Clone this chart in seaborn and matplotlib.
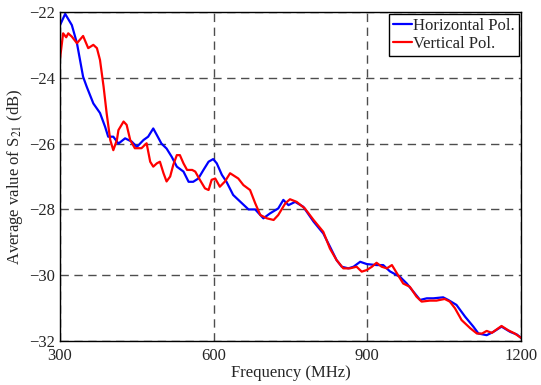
import pandas as pd
import seaborn as sns
import matplotlib.pyplot as plt

# values
freq_h = [300, 310, 323, 333, 345, 352, 365, 378, 388, 394, 404, 414, 427, 440, 450,
          463, 472, 482, 489, 498, 508, 518, 528, 541, 551, 560, 570, 580, 590, 599,
          606, 616, 625, 638, 655, 668, 681, 697, 710, 726, 736, 746, 759, 775, 795,
          814, 827, 840, 850, 863, 873, 886, 899, 918, 931, 944, 964, 977, 990, 1003,
          1016, 1029, 1048, 1058, 1074, 1091, 1107, 1117, 1133, 1146, 1162, 1179, 1192, 1200]
s21_h = [-22.4, -22.06, -22.4, -22.95, -23.97, -24.27, -24.78, -25.07, -25.49, -25.79, -25.79, -26.0, -25.84, -25.94, -26.1,
         -25.89, -25.79, -25.54, -25.74, -26.0, -26.15, -26.4, -26.7, -26.85, -27.16, -27.16, -27.06, -26.8, -26.55, -26.47,
         -26.6, -26.95, -27.16, -27.56, -27.81, -28.0, -28.0, -28.27, -28.12, -27.97, -27.71, -27.87, -27.77, -27.92, -28.37,
         -28.73, -29.13, -29.54, -29.74, -29.79, -29.74, -29.59, -29.66, -29.69, -29.69, -29.88, -30.05, -30.25, -30.5, -30.75,
         -30.7, -30.7, -30.67, -30.75, -30.9, -31.26, -31.56, -31.77, -31.82, -31.72, -31.56, -31.72, -31.8, -31.9]

freq_v = [300, 306, 312, 316, 323, 333, 345, 355, 365, 372, 378, 385, 391, 398, 404,
          411, 414, 424, 430, 437, 446, 459, 469, 476, 482, 489, 495, 502, 508, 515,
          521, 528, 534, 541, 548, 558, 564, 573, 583, 590, 596, 603, 612, 622, 632,
          648, 658, 671, 681, 691, 704, 717, 726, 740, 749, 762, 778, 795, 814, 827,
          840, 853, 866, 879, 889, 899, 909, 918, 928, 938, 948, 957, 970, 983, 996,
          1006, 1022, 1035, 1051, 1061, 1071, 1084, 1101, 1114, 1124, 1133, 1143, 1162, 1175, 1188, 1200]
s21_v = [-23.41, -22.65, -22.77, -22.65, -22.75, -22.95, -22.73, -23.1, -23.0, -23.1, -23.46, -24.27, -25.08, -25.89, -26.2,
         -25.89, -25.59, -25.33, -25.43, -25.89, -26.14, -26.14, -25.99, -26.55, -26.7, -26.6, -26.55, -26.9, -27.15, -27.0,
         -26.65, -26.35, -26.35, -26.6, -26.8, -26.8, -26.85, -27.1, -27.36, -27.41, -27.1, -27.06, -27.31, -27.15, -26.9,
         -27.06, -27.26, -27.41, -27.81, -28.17, -28.27, -28.32, -28.17, -27.81, -27.69, -27.77, -27.97, -28.32, -28.68, -29.19,
         -29.54, -29.79, -29.79, -29.74, -29.89, -29.84, -29.74, -29.62, -29.74, -29.79, -29.69, -29.92, -30.25, -30.35, -30.65,
         -30.8, -30.77, -30.77, -30.72, -30.8, -31.0, -31.36, -31.61, -31.77, -31.77, -31.69, -31.75, -31.54, -31.67, -31.77, -31.9]

df = pd.concat([
    pd.DataFrame({"freq": freq_h, "s21": s21_h, "pol": "Horizontal Pol."}),
    pd.DataFrame({"freq": freq_v, "s21": s21_v, "pol": "Vertical Pol."}),
])

sns.set_style("white")
plt.rcParams["font.family"] = ["Liberation Serif", "DejaVu Serif"]
plt.rcParams["mathtext.fontset"] = "stix"

fig = plt.figure(figsize=(5.41, 3.85), dpi=100)
ax = fig.add_axes([0.111, 0.114, 0.852, 0.855])

sns.lineplot(data=df, x="freq", y="s21", hue="pol", palette=["#0000ff", "#ff0000"],
             linewidth=1.6, ax=ax, sort=False)

ax.set_xlim(300, 1200)
ax.set_ylim(-32, -22)
ax.set_xticks([300, 600, 900, 1200])
ax.set_yticks([-32, -30, -28, -26, -24, -22])
ax.grid(True, color="0.3", linestyle=(0, (6, 4)), linewidth=1)
ax.tick_params(direction="in", labelsize=12, length=4, color="black")
ax.tick_params(axis="x", pad=5)
for sp in ax.spines.values():
    sp.set_color("black")
    sp.set_linewidth(1)

ax.set_xlabel("Frequency (MHz)", fontsize=12, labelpad=1)
ax.set_ylabel("Average value of S$_{21}$ (dB)", fontsize=12, labelpad=3)

leg = ax.legend(loc="upper right", fontsize=12, handlelength=1.1, handletextpad=0.1,
                borderpad=0.25, labelspacing=0.15, fancybox=False, framealpha=1,
                borderaxespad=0.1)
leg.get_frame().set_edgecolor("black")
leg.get_frame().set_linewidth(1)

fig.savefig("out.png", dpi=100)
